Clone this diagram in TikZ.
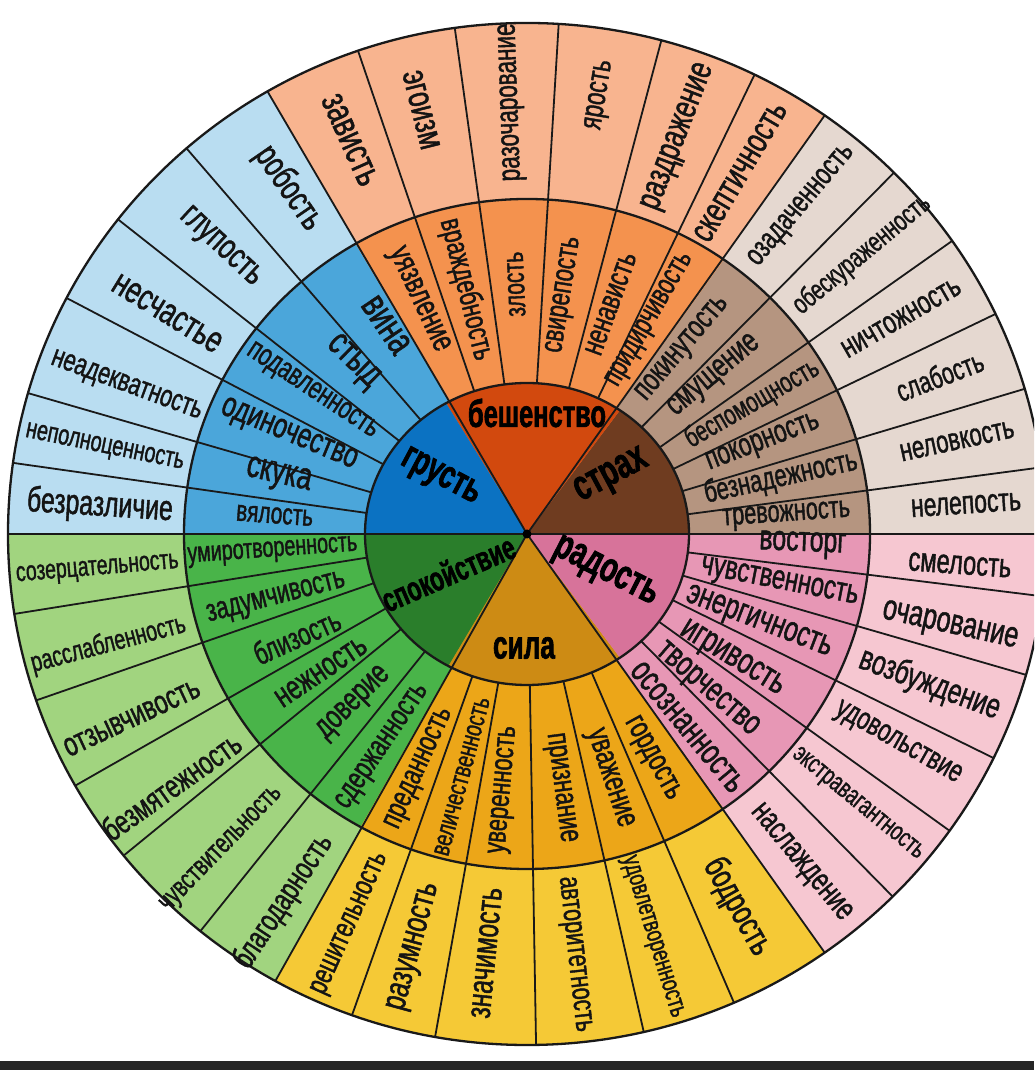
\documentclass[tikz,border=0pt]{standalone}
\usepackage{fontspec}
\usepackage{graphicx}
\setmainfont{Liberation Sans}[FakeStretch=0.70,FakeBold=1.3]
\newfontfamily\labfont{Liberation Sans}[FakeStretch=0.66,FakeBold=1.6]
\definecolor{gIn}{HTML}{0B72C2}\definecolor{gMid}{HTML}{4BA6DA}\definecolor{gOut}{HTML}{B9DDF1}
\definecolor{bIn}{HTML}{D2490E}\definecolor{bMid}{HTML}{F4924E}\definecolor{bOut}{HTML}{F8B48F}
\definecolor{sIn}{HTML}{6F3C20}\definecolor{sMid}{HTML}{B59580}\definecolor{sOut}{HTML}{E5D8D0}
\definecolor{rIn}{HTML}{D7739A}\definecolor{rMid}{HTML}{E797B5}\definecolor{rOut}{HTML}{F6C7D1}
\definecolor{kIn}{HTML}{CD8B14}\definecolor{kMid}{HTML}{ECA618}\definecolor{kOut}{HTML}{F5C936}
\definecolor{cIn}{HTML}{2A7E2B}\definecolor{cMid}{HTML}{49B449}\definecolor{cOut}{HTML}{A1D47F}
\newcommand\wsect[5]{\fill[#5] (0,0) -- (#1:#3pt and #4pt) arc[start angle=#1,end angle=#2,x radius=#3pt,y radius=#4pt] -- cycle;}
\newcommand\win[4]{\node[wd,rotate=#1+180] at (#1:#2pt) {\resizebox{#3pt}{!}{#4}};}
\newcommand\wout[4]{\node[wd,rotate=#1] at (#1:#2pt) {\resizebox{#3pt}{!}{#4}};}
\newcommand\wlab[5]{\node[lab,rotate=#3] (#5) at (#1pt,#2pt) {\resizebox{#4pt}{!}{#5}};}
\begin{document}
\begin{tikzpicture}[x=1pt,y=1pt,
  wd/.style={inner sep=0pt,outer sep=0pt,text=black!92,font=\fontsize{24}{28}\selectfont},
  lab/.style={inner sep=0pt,outer sep=0pt,text=black,font=\labfont\bfseries\fontsize{30}{34}\selectfont},
  rl/.style={line width=1.8pt,draw=black!90},
  cl/.style={line width=2.3pt,draw=black!90}]
\useasboundingbox (0,0) rectangle (1034,1070);
\clip (0,0) rectangle (1034,1070);
\fill[white] (0,0) rectangle (1034,1070);
\begin{scope}[shift={(527,536)}]
% outer ring
\wsect{0}{55}{519}{511}{sOut}
\wsect{55}{120}{519}{511}{bOut}
\wsect{120}{180}{519}{511}{gOut}
\wsect{180}{241}{519}{511}{cOut}
\wsect{241}{305}{519}{511}{kOut}
\wsect{305}{360}{519}{511}{rOut}
% middle ring
\wsect{0}{55}{343}{335}{sMid}
\wsect{55}{120}{343}{335}{bMid}
\wsect{120}{180}{343}{335}{gMid}
\wsect{180}{241}{343}{335}{cMid}
\wsect{241}{305}{343}{335}{kMid}
\wsect{305}{360}{343}{335}{rMid}
% inner
\wsect{0}{55}{162}{151}{sIn}
\wsect{55}{120}{162}{151}{bIn}
\wsect{120}{180}{162}{151}{gIn}
\wsect{180}{241}{162}{151}{cIn}
\wsect{241}{305}{162}{151}{kIn}
\wsect{305}{360}{162}{151}{rIn}
% segment lines
\foreach \a in {131,142,152.5,164,172,109,98,86.5,75,64,7.5,16.5,25.5,35,45,353,344,334,324.5,314.8,250.3,259.8,271,283,293.5,189,199,209.5,219,231}
  \draw[rl] (\a:162pt and 151pt) -- (\a:519pt and 511pt);
\foreach \a in {55,120,241,305}
  \draw[rl] (0,0) -- (\a:519pt and 511pt);
\draw[rl] (180:519pt and 511pt) -- (0:519pt and 511pt);
\draw[cl] (0,0) ellipse[x radius=162pt,y radius=151pt];
\draw[cl] (0,0) ellipse[x radius=343pt,y radius=335pt];
\draw[cl] (0,0) ellipse[x radius=519pt,y radius=511pt];
\fill[black] (0,0) circle[radius=4.5pt];
% inner labels
\wlab{-87}{56}{-28}{85}{грусть}
\wlab{10}{121}{0}{138}{бешенство}
\wlab{85}{57}{28}{78}{страх}
\wlab{78}{-39}{-27}{113}{радость}
\wlab{-3}{-114}{0}{62}{сила}
\wlab{-79}{-39}{23.5}{142}{спокойствие}
% sadness
\win{124.6}{420}{94}{робость}
\win{137}{420}{101}{глупость}
\win{148.5}{422}{123}{несчастье}
\win{159.8}{427}{159}{неадекватность}
\win{168.5}{431}{161}{неполноценность}
\win{176.3}{428}{146}{безразличие}
\win{124}{252}{62}{вина}
\win{135.5}{245}{61}{стыд}
\win{146.5}{258}{152}{подавленность}
\win{157.5}{258}{145}{одиночество}
\win{167}{255}{66}{скука}
\win{175.8}{253}{77}{вялость}
% rage
\win{114.2}{432}{97}{зависть}
\win{104}{437}{80}{эгоизм}
\wout{92}{432}{158}{разочарование}
\wout{80.5}{445}{70}{ярость}
\wout{69}{425}{155}{раздражение}
\wout{59.5}{420}{156}{скептичность}
\win{115}{258}{112}{уязвление}
\win{104}{252}{145}{враждебность}
\wout{92.5}{250}{65}{злость}
\wout{81}{242}{117}{свирепость}
\wout{70}{245}{107}{ненависть}
\wout{60}{247}{150}{придирчивость}
% fear
\wout{3.8}{440}{110}{нелепость}
\wout{12.2}{440}{116}{неловкость}
\wout{21}{442}{91}{слабость}
\wout{30}{432}{133}{ничтожность}
\wout{39.8}{436}{170}{обескураженность}
\wout{50}{428}{150}{озадаченность}
\wout{4}{260}{128}{тревожность}
\wout{12.5}{260}{156}{безнадежность}
\wout{21}{253}{119}{покорность}
\wout{30}{260}{150}{беспомощность}
\wout{40}{245}{111}{смущение}
\wout{49.8}{242}{128}{покинутость}
% joy
\wout{-2.3}{276}{87}{восторг}
\wout{-11}{257}{160}{чувственность}
\wout{-21}{248}{154}{энергичность}
\wout{-31.5}{240}{117}{игривость}
\wout{-41}{238}{127}{творчество}
\wout{-50.3}{251}{160}{осознанность}
\wout{-4.1}{434}{103}{смелость}
\wout{-12.4}{433}{138}{очарование}
\wout{-20.5}{430}{148}{возбуждение}
\wout{-29.5}{426}{141}{удовольствие}
\wout{-39.3}{427}{163}{экстравагантность}
\wout{-50.3}{428}{143}{наслаждение}
% strength
\win{245.5}{258}{130}{преданность}
\win{255}{251}{163}{величественность}
\win{265}{257}{128}{уверенность}
\wout{277.4}{256}{110}{признание}
\wout{288.5}{258}{102}{уважение}
\wout{299}{257}{91}{гордость}
\win{245.7}{428}{153}{решительность}
\win{254.8}{428}{131}{разумность}
\win{264.5}{421}{131}{значимость}
\wout{276.3}{423}{156}{авторитетность}
\wout{287.2}{422}{168}{удовлетворенность}
\wout{299.4}{428}{106}{бодрость}
% calm
\win{184}{255}{170}{умиротворенность}
\win{194.5}{259}{142}{задумчивость}
\win{204}{252}{92}{близость}
\win{213.8}{248}{104}{нежность}
\win{224.5}{242}{91}{доверие}
\win{236}{257}{145}{сдержанность}
\win{184.8}{431}{163}{созерцательность}
\win{194.8}{433}{159}{расслабленность}
\win{205}{436}{147}{отзывчивость}
\win{215.3}{436}{162}{безмятежность}
\win{226}{439}{164}{чувствительность}
\win{236.5}{441}{154}{благодарность}
\end{scope}
\fill[black!85] (0,0) rectangle (1034,9);
\end{tikzpicture}
\end{document}
